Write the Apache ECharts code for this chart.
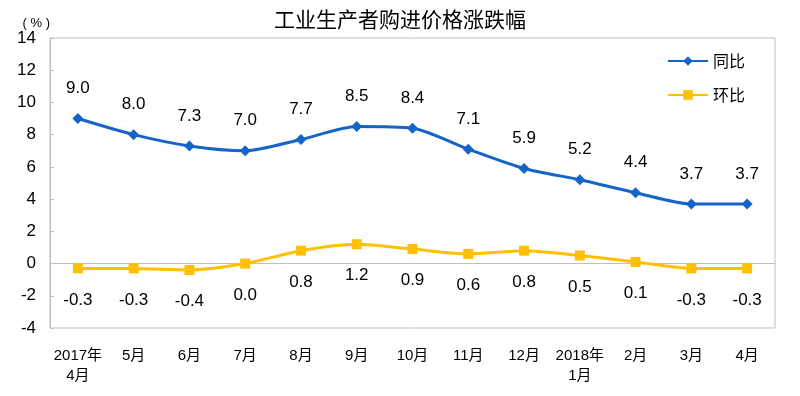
<!DOCTYPE html>
<html>
<head>
<meta charset="utf-8">
<script src="https://cdn.jsdelivr.net/npm/echarts@6/dist/echarts.min.js"></script>
<style>
  html, body { margin: 0; padding: 0; background: #fff; }
  #chart { width: 800px; height: 396px; }
</style>
</head>
<body>
<div id="chart"></div>
<script>
// 月份
var months = ['2017年\n4月', '5月', '6月', '7月', '8月', '9月', '10月', '11月', '12月', '2018年\n1月', '2月', '3月', '4月'];
// 同比
var yoy = [9.0, 8.0, 7.3, 7.0, 7.7, 8.5, 8.4, 7.1, 5.9, 5.2, 4.4, 3.7, 3.7];
// 环比
var mom = [-0.3, -0.3, -0.4, 0.0, 0.8, 1.2, 0.9, 0.6, 0.8, 0.5, 0.1, -0.3, -0.3];

var cjk = '"Noto Sans CJK SC", "Liberation Sans", sans-serif';
var num = '"Liberation Sans", "Noto Sans CJK SC", sans-serif';
var myChart = echarts.init(document.getElementById('chart'));

myChart.setOption({
  animation: false,
  textStyle: { fontFamily: num },
  title: {
    text: '工业生产者购进价格涨跌幅',
    left: 'center',
    top: 4,
    textStyle: { fontSize: 21, fontWeight: 'normal', color: '#000', fontFamily: cjk }
  },
  legend: {
    orient: 'vertical',
    left: 662,
    top: 48,
    itemWidth: 40,
    itemHeight: 12,
    itemGap: 18,
    textStyle: { fontSize: 16, color: '#000', fontFamily: cjk },
    data: ['同比', '环比']
  },
  grid: {
    left: 50, right: 25, top: 38, bottom: 68,
    show: true, borderColor: '#bfbfbf', borderWidth: 1
  },
  xAxis: {
    type: 'category',
    data: months,
    boundaryGap: true,
    axisLine: { lineStyle: { color: '#bfbfbf' } },
    axisTick: { inside: true, length: 5, lineStyle: { color: '#bfbfbf' } },
    axisLabel: { color: '#000', fontSize: 15, margin: 18, lineHeight: 20, interval: 0, fontFamily: num }
  },
  yAxis: {
    type: 'value',
    min: -4, max: 14, interval: 2,
    name: '( % )',
    nameGap: 8,
    nameTextStyle: { fontSize: 13, color: '#000', align: 'right', padding: [0, 0, 0, 0] },
    axisLine: { show: true, lineStyle: { color: '#bfbfbf' } },
    axisTick: { show: true, inside: true, length: 4, lineStyle: { color: '#bfbfbf' } },
    splitLine: { show: false },
    axisLabel: { color: '#000', fontSize: 17, margin: 14 }
  },
  series: [
    {
      name: '同比',
      type: 'line',
      data: yoy,
      smooth: 0.25,
      symbol: 'diamond',
      symbolSize: 11,
      itemStyle: { color: '#1565c8' },
      lineStyle: { width: 3, color: '#1565c8' },
      label: {
        show: true, position: 'top', distance: 16,
        fontSize: 17, color: '#000',
        formatter: function (p) { return p.value.toFixed(1); }
      }
    },
    {
      name: '环比',
      type: 'line',
      data: mom,
      smooth: 0.25,
      symbol: 'rect',
      symbolSize: 10,
      itemStyle: { color: '#ffc000' },
      lineStyle: { width: 3, color: '#ffc000' },
      label: {
        show: true, position: 'bottom', distance: 18,
        fontSize: 17, color: '#000',
        formatter: function (p) { return p.value.toFixed(1); }
      }
    }
  ]
});
</script>
</body>
</html>
